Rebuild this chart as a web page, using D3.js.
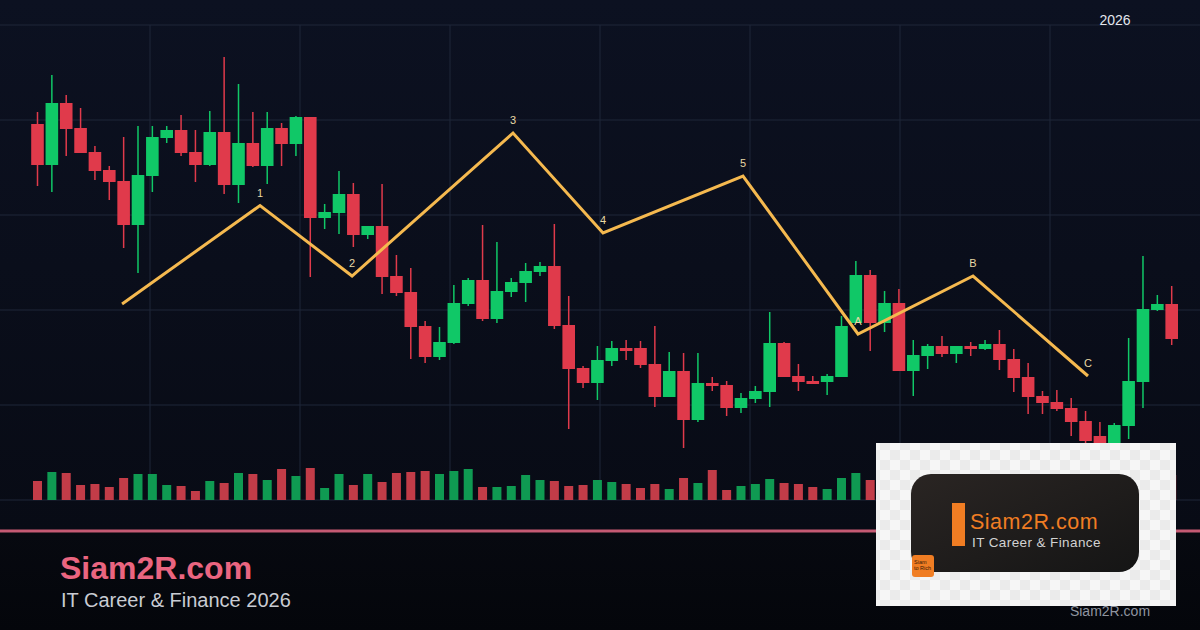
<!DOCTYPE html>
<html><head><meta charset="utf-8">
<script src="https://cdn.jsdelivr.net/npm/d3@7"></script>
<style>html,body{margin:0;padding:0;background:#05070d;}svg{display:block;}</style>
</head><body><svg id="chart" width="1200" height="630"></svg>
<script>
// ---- data ----
const opens  = [47.6,43.5,49.7,47.2,44.8,43.0,41.9,37.5,42.4,46.2,47.0,44.8,43.5,46.8,41.5,45.7,43.4,47.2,45.6,48.3,38.2,38.7,40.6,36.5,37.4,32.4,30.8,27.4,24.3,25.7,29.6,32.0,28.1,30.8,31.7,32.8,33.4,27.5,23.2,21.7,23.9,25.2,25.2,23.6,20.3,22.9,18.0,21.7,21.5,19.2,20.1,20.8,25.7,22.4,21.9,21.8,22.3,27.7,32.5,27.7,29.7,22.9,24.4,25.4,24.6,25.4,25.1,25.6,24.1,22.3,20.4,19.8,19.2,17.9,16.4,15.2,17.4,21.8,29.0,29.6];
const highs  = [48.8,52.5,50.5,49.2,45.4,43.4,46.3,47.4,47.4,47.4,48.5,47.0,48.9,54.3,51.6,48.8,48.8,47.7,48.4,48.3,39.6,42.9,41.7,37.4,41.6,34.5,33.2,27.9,27.3,31.5,32.2,37.5,35.8,32.2,33.7,33.8,37.6,30.4,23.4,25.4,25.9,26.0,25.9,27.4,24.8,24.7,24.7,22.3,21.9,20.7,21.4,28.8,25.8,23.6,22.4,22.6,28.4,33.9,33.0,30.9,31.1,26.0,25.6,26.4,25.4,25.8,26.0,27.0,25.1,23.7,20.9,21.0,20.2,18.9,17.8,17.7,26.2,34.4,30.5,31.4];
const lows   = [41.4,40.8,44.4,44.7,42.0,40.0,35.2,32.7,40.8,45.7,44.4,41.8,43.4,40.6,39.7,43.3,41.6,43.4,44.4,32.3,37.1,36.6,35.3,36.1,30.6,30.4,24.1,23.7,24.0,25.6,29.4,27.9,27.7,30.3,29.8,32.4,27.1,17.1,21.2,20.0,23.4,24.0,23.2,19.3,20.3,15.2,17.8,20.9,18.4,18.7,19.7,19.3,22.3,20.9,21.6,20.5,22.3,27.7,24.9,26.8,22.9,20.4,23.1,24.3,23.7,24.4,25.0,23.0,20.8,18.6,18.6,18.9,16.4,14.8,14.0,14.5,16.1,19.2,28.9,25.5];
const closes = [43.5,49.7,47.1,44.7,42.9,41.8,37.5,42.5,46.3,47.0,44.7,43.5,46.8,41.5,45.7,43.4,47.2,45.6,48.3,38.2,38.8,40.6,36.5,37.4,32.3,30.7,27.3,24.3,25.8,29.7,32.0,28.1,30.9,31.8,32.9,33.4,27.4,23.1,21.7,24.0,25.2,24.9,23.5,20.3,22.9,18.0,21.7,21.4,19.2,20.2,20.9,25.7,22.3,21.8,21.6,22.4,27.4,32.5,27.7,29.7,22.9,24.5,25.4,24.6,25.4,25.1,25.6,24.0,22.2,20.3,19.7,19.1,17.8,15.9,14.8,17.5,21.9,29.1,29.6,26.1];
const volumes = [19,28,27,15,16,13,22,26,26,15,14,9,19,17,27,26,20,31,24,32,12,26,15,26,18,27,28,29,26,29,31,13,13,14,25,20,19,14,15,20,18,16,12,16,11,22,17,30,10,14,16,21,17,16,13,11,22,27,20,15,24,18,12,14,11,10,12,18,20,22,15,14,21,24,19,22,28,33,14,25];
const waveLabels = ["", "1", "2", "3", "4", "5", "A", "B", "C"];
const waveIndex  = [5.89, 15.5, 21.91, 33.12, 39.39, 49.14, 57.15, 65.16, 73.17];
const wavePrice  = [29.6, 39.45, 32.4, 46.7, 36.7, 42.4, 26.6, 32.4, 22.4];
const gridPrices = [57.5, 48, 38.5, 29, 19.5, 10];
const gridTimes  = [1, 2, 3, 4, 5, 6, 7];
const yearLabel = "2026";
const brandTitle = "Siam2R.com";
const brandSub = "IT Career & Finance 2026";
const logoTitle = "Siam2R.com";
const logoSub = "IT Career & Finance";

// ---- drawing ----
const W = 1200, H = 630;
const svg = d3.select("#chart");
const defs = svg.append("defs");
const bg = defs.append("linearGradient").attr("id","bg").attr("x1",0).attr("y1",0).attr("x2",0).attr("y2",1);
bg.append("stop").attr("offset","0%").attr("stop-color","#0c1121");
bg.append("stop").attr("offset","100%").attr("stop-color","#080b15");
const bg2 = defs.append("linearGradient").attr("id","bg2").attr("x1",0).attr("y1",0).attr("x2",0).attr("y2",1);
bg2.append("stop").attr("offset","0%").attr("stop-color","#070910");
bg2.append("stop").attr("offset","100%").attr("stop-color","#04060b");
const pat = defs.append("pattern").attr("id","checker").attr("width",20).attr("height",20).attr("patternUnits","userSpaceOnUse");
pat.append("rect").attr("width",20).attr("height",20).attr("fill","#f6f6f6");
pat.append("rect").attr("width",10).attr("height",10).attr("fill","#ebebeb");
pat.append("rect").attr("x",10).attr("y",10).attr("width",10).attr("height",10).attr("fill","#ebebeb");
const lg = defs.append("linearGradient").attr("id","logoBg").attr("x1",0).attr("y1",0).attr("x2",1).attr("y2",1);
lg.append("stop").attr("offset","0%").attr("stop-color","#2a2523");
lg.append("stop").attr("offset","100%").attr("stop-color","#151515");

svg.append("rect").attr("width",W).attr("height",531).attr("fill","url(#bg)");
svg.append("rect").attr("y",531).attr("width",W).attr("height",H-531).attr("fill","url(#bg2)");

const x = d3.scaleLinear().domain([0, 79]).range([37.5, 1171.7]);
const y = d3.scaleLinear().domain([10, 57.5]).range([500, 25]);
const gx = d3.scaleLinear().domain([0, 8]).range([0, W]);
const v = d3.scaleLinear().domain([0, 100]).range([0, 100]);
const volBase = y(10);

// grid
svg.append("g").selectAll("line").data(gridPrices).join("line")
  .attr("x1",0).attr("x2",W).attr("y1",d=>y(d)).attr("y2",d=>y(d))
  .attr("stroke","#1f2638").attr("stroke-width",1);
svg.append("g").selectAll("line").data(gridTimes).join("line")
  .attr("x1",d=>gx(d)).attr("x2",d=>gx(d)).attr("y1",y(57.5)).attr("y2",volBase)
  .attr("stroke","#1f2638").attr("stroke-width",1);

const candles = opens.map((o,i)=>({i, o, h:highs[i], l:lows[i], c:closes[i], vol:volumes[i], up: closes[i] >= o}));
const RED = "#e03a4b", GREEN = "#10c867", VRED = "#c23c48", VGREEN = "#0f9a52";

// volume
svg.append("g").selectAll("rect").data(candles).join("rect")
  .attr("x",d=>x(d.i)-4.5).attr("width",9)
  .attr("y",d=>volBase - v(d.vol)).attr("height",d=>v(d.vol))
  .attr("fill",d=>d.up?VGREEN:VRED);

// candles
const cg = svg.append("g");
cg.selectAll("line").data(candles).join("line")
  .attr("x1",d=>x(d.i)).attr("x2",d=>x(d.i))
  .attr("y1",d=>y(d.h)).attr("y2",d=>y(d.l))
  .attr("stroke",d=>d.up?GREEN:RED).attr("stroke-width",1.5);
cg.selectAll("rect").data(candles).join("rect")
  .attr("x",d=>x(d.i)-6.3).attr("width",12.6)
  .attr("y",d=>y(Math.max(d.o,d.c)))
  .attr("height",d=>Math.max(1.5, Math.abs(y(d.o)-y(d.c))))
  .attr("fill",d=>d.up?GREEN:RED);

// wave
const wave = waveIndex.map((xi,k)=>({xi, p:wavePrice[k], label:waveLabels[k]}));
svg.append("path").datum(wave)
  .attr("d", d3.line().x(d=>x(d.xi)).y(d=>y(d.p)))
  .attr("fill","none").attr("stroke","#f5b94f").attr("stroke-width",3).attr("stroke-linejoin","miter");
svg.append("g").selectAll("text").data(wave.filter(d=>d.label)).join("text")
  .attr("x",d=>x(d.xi)).attr("y",d=>y(d.p)-9)
  .attr("text-anchor","middle").attr("font-family","Liberation Sans, Arial, sans-serif")
  .attr("font-size",11).attr("fill","#e9d9a6").text(d=>d.label);

// year label
svg.append("text").attr("x",1115).attr("y",25).attr("text-anchor","middle")
  .attr("font-family","Liberation Sans, Arial, sans-serif").attr("font-size",14)
  .attr("fill","#e4e7ee").text(yearLabel);

// pink separator
svg.append("rect").attr("x",0).attr("y",529.5).attr("width",W).attr("height",3).attr("fill","#c55a73");

// footer brand
svg.append("text").attr("x",60).attr("y",579).attr("font-family","Liberation Sans, Arial, sans-serif")
  .attr("font-weight","bold").attr("font-size",32).attr("fill","#ea6580").text(brandTitle);
svg.append("text").attr("x",61).attr("y",607).attr("font-family","Liberation Sans, Arial, sans-serif")
  .attr("font-size",20).attr("fill","#c9ccd3").text(brandSub);

// bottom-right watermark
svg.append("text").attr("x",1110).attr("y",616).attr("text-anchor","middle")
  .attr("font-family","Liberation Sans, Arial, sans-serif").attr("font-size",14)
  .attr("fill","#8f95a0").text(logoTitle);

// logo card
const lgG = svg.append("g");
lgG.append("rect").attr("x",876).attr("y",443).attr("width",300).attr("height",163).attr("fill","url(#checker)");
lgG.append("rect").attr("x",911).attr("y",474).attr("width",228).attr("height",98).attr("rx",20).attr("fill","url(#logoBg)");
lgG.append("rect").attr("x",952).attr("y",503).attr("width",13).attr("height",43).attr("fill","#f07d23");
lgG.append("text").attr("x",970).attr("y",529).attr("font-family","Liberation Sans, Arial, sans-serif")
  .attr("font-size",21.5).attr("letter-spacing",0.5).attr("fill","#f07d23").text(logoTitle);
lgG.append("text").attr("x",972).attr("y",547).attr("font-family","Liberation Sans, Arial, sans-serif")
  .attr("font-size",13.5).attr("letter-spacing",0.4).attr("fill","#d2d2d2").text(logoSub);
lgG.append("rect").attr("x",912).attr("y",555).attr("width",22).attr("height",22).attr("rx",3).attr("fill","#f07d23");
lgG.append("text").attr("x",914).attr("y",564).attr("font-family","Liberation Sans, Arial, sans-serif")
  .attr("font-size",5.5).attr("fill","#3a1a05").text("Siam");
lgG.append("text").attr("x",914).attr("y",570).attr("font-family","Liberation Sans, Arial, sans-serif")
  .attr("font-size",5.5).attr("fill","#3a1a05").text("to Rich");
</script></body></html>
